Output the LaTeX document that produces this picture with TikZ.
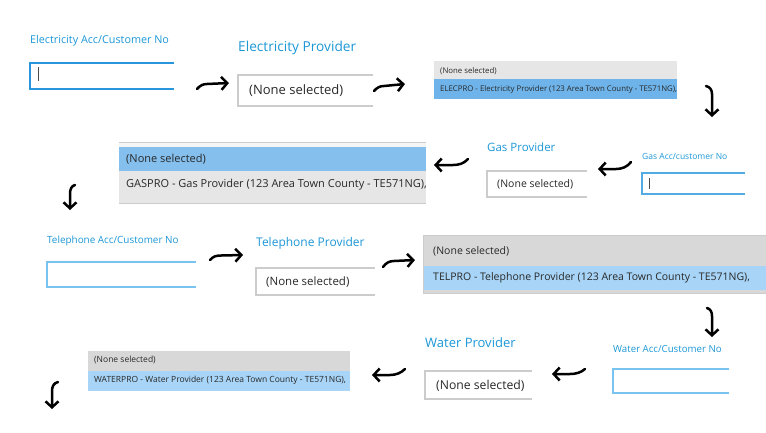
\documentclass[tikz,border=0pt]{standalone}
\usepackage{fontspec}
\setmainfont{Open Sans}
\usetikzlibrary{arrows.meta}
\definecolor{lblblue}{RGB}{28,151,214}
\definecolor{tbfocus}{RGB}{40,150,220}
\definecolor{tblight}{RGB}{120,195,240}
\definecolor{ddborder}{RGB}{204,204,204}
\definecolor{lgray}{RGB}{230,230,230}
\definecolor{lgrayd}{RGB}{216,216,216}
\definecolor{lblue}{RGB}{110,180,234}
\definecolor{lbluel}{RGB}{168,213,247}
\definecolor{txt}{RGB}{40,40,40}
\tikzset{
  lbl/.style={anchor=west,inner sep=0pt,text=lblblue},
  ddtext/.style={anchor=west,inner sep=0pt,text=txt},
  lsttext/.style={anchor=west,inner sep=0pt,text=txt},
  tbox/.style={draw=tbfocus,line width=1.8pt},
  tboxl/.style={draw=tblight,line width=1.6pt},
  ddbox/.style={draw=ddborder,line width=1.2pt},
  cursor/.style={draw=black!70,line width=1pt},
  harrow/.style={draw=black,line width=2.5pt,line cap=round,line join=round,
    -{Straight Barb[length=6pt,width=13pt]}},
}
\begin{document}
\begin{tikzpicture}[x=1pt,y=-1pt]
\useasboundingbox (0,0) rectangle (766,432);

% ---------- Row 1 ----------
\node[lbl,font=\fontsize{10.8}{12}\selectfont] (elecacc) at (30,41) {Electricity Acc/Customer No};
\draw[tbox] (174,63) -- (30,63) -- (30,89) -- (174,89);
\draw[cursor] (38,67) -- (38,81);

\node[lbl,font=\fontsize{13.7}{16}\selectfont] (elecprov) at (238,48) {Electricity Provider};
\draw[ddbox] (373,75) -- (238,75) -- (238,106) -- (373,106);
\node[ddtext,font=\fontsize{13}{15}\selectfont] (elecdd) at (249,91) {(None selected)};

\fill[lgray] (434,61) rectangle (677,79);
\fill[lblue] (434,79) rectangle (677,99);
\node[lsttext,font=\fontsize{7.8}{9}\selectfont] (eleclist1) at (440,71) {(None selected)};
\node[lsttext,font=\fontsize{7.8}{9}\selectfont] (eleclist2) at (440,89.5) {ELECPRO - Electricity Provider (123 Area Town County - TE571NG),};

\coordinate (a1s) at (197,89);
\coordinate (a1m) at (207,84);
\coordinate (a1e) at (229,83);
\draw[harrow] (a1s) .. controls (200,85.5) and (203,84) .. (a1m) -- (a1e);
\coordinate (a2s) at (374,91);
\coordinate (a2m) at (384,86);
\coordinate (a2e) at (405,84);
\draw[harrow] (a2s) .. controls (377,87.5) and (380,86) .. (a2m) -- (a2e);
\coordinate (d1s) at (706,86);
\coordinate (d1m) at (712,94);
\coordinate (d1e) at (712,117);
\draw[harrow] (d1s) .. controls (710,87) and (712,90) .. (d1m) -- (d1e);

% ---------- Row 2 ----------
\fill[lgray] (119,142) rectangle (426,203);
\fill[black!4] (119,143) rectangle (426,147);
\fill[lblue!85!white] (119,147) rectangle (426,171);
\draw[ddborder,line width=0.8pt] (119,142) -- (426,142);
\draw[ddborder,line width=0.8pt] (119,203) -- (426,203);
\node[lsttext,font=\fontsize{11}{13}\selectfont] (gaslist1) at (126,159) {(None selected)};
\node[lsttext,font=\fontsize{11}{13}\selectfont] (gaslist2) at (126,185) {GASPRO - Gas Provider (123 Area Town County - TE571NG),};

\node[lbl,font=\fontsize{11.5}{14}\selectfont] (gasprov) at (487,147) {Gas Provider};
\draw[ddbox] (587,171) -- (487,171) -- (487,197) -- (587,197);
\node[ddtext,font=\fontsize{10.5}{12}\selectfont] (gasdd) at (497,184) {(None selected)};

\node[lbl,font=\fontsize{8.5}{10}\selectfont] (gasacc) at (642,156) {Gas Acc/customer No};
\draw[tboxl,draw=tbfocus!80!white,line width=1.4pt] (745,173) -- (642,173) -- (642,194) -- (745,194);
\draw[cursor] (649,178) -- (649,189);

\coordinate (l1s) at (468,159);
\coordinate (l1m) at (453,165);
\coordinate (l1e) at (434,165);
\draw[harrow] (l1s) .. controls (464,163.5) and (459,165) .. (l1m) -- (l1e);
\coordinate (l2s) at (631,162);
\coordinate (l2m) at (616,169);
\coordinate (l2e) at (598,169);
\draw[harrow] (l2s) .. controls (627,167) and (622,169) .. (l2m) -- (l2e);
\coordinate (d2s) at (75,185);
\coordinate (d2m) at (70,194);
\coordinate (d2e) at (70,210);
\draw[harrow] (d2s) .. controls (71.5,186) and (70,189) .. (d2m) -- (d2e);

% ---------- Row 3 ----------
\node[lbl,font=\fontsize{9.9}{11}\selectfont] (telacc) at (47,241) {Telephone Acc/Customer No};
\draw[tboxl] (196,262) -- (47,262) -- (47,287) -- (196,287);

\node[lbl,font=\fontsize{12}{15}\selectfont] (telprov) at (256,243) {Telephone Provider};
\draw[ddbox] (375,268) -- (256,268) -- (256,295) -- (375,295);
\node[ddtext,font=\fontsize{11.5}{13}\selectfont] (teldd) at (266,282) {(None selected)};

\fill[lgrayd] (423,235) rectangle (766,293);
\fill[lbluel] (424,266) rectangle (766,290);
\draw[ddborder,line width=0.8pt] (766,235) -- (423,235) -- (423,293) -- (766,293);
\node[lsttext,font=\fontsize{10.5}{12}\selectfont] (tellist1) at (433,251) {(None selected)};
\node[lsttext,font=\fontsize{10.5}{12}\selectfont] (tellist2) at (433,278) {TELPRO - Telephone Provider (123 Area Town County - TE571NG),};

\coordinate (a3s) at (210,260);
\coordinate (a3m) at (221,255.5);
\coordinate (a3e) at (243,255);
\draw[harrow] (a3s) .. controls (213,256.5) and (216,255.5) .. (a3m) -- (a3e);
\coordinate (a4s) at (383,267);
\coordinate (a4m) at (394,261);
\coordinate (a4e) at (415,260);
\draw[harrow] (a4s) .. controls (386,263) and (389,261) .. (a4m) -- (a4e);
\coordinate (d3s) at (707,308);
\coordinate (d3m) at (712,316);
\coordinate (d3e) at (712,337);
\draw[harrow] (d3s) .. controls (710.5,309) and (712,312) .. (d3m) -- (d3e);

% ---------- Row 4 ----------
\node[lbl,font=\fontsize{9.7}{11}\selectfont] (wateracc) at (613,349) {Water Acc/Customer No};
\draw[tboxl] (729,369) -- (613,369) -- (613,393) -- (729,393);

\node[lbl,font=\fontsize{13}{15}\selectfont] (waterprov) at (425,343) {Water Provider};
\draw[ddbox] (532,371) -- (425,371) -- (425,399) -- (532,399);
\node[ddtext,font=\fontsize{12.2}{14}\selectfont] (waterdd) at (436,386) {(None selected)};

\fill[lgrayd] (88,351) rectangle (350,371);
\fill[lbluel] (88,371) rectangle (350,391);
\node[lsttext,font=\fontsize{8.5}{10}\selectfont] (waterlist1) at (94,360) {(None selected)};
\node[lsttext,font=\fontsize{8.5}{10}\selectfont] (waterlist2) at (94,380.5) {WATERPRO - Water Provider (123 Area Town County - TE571NG),};

\coordinate (l3s) at (585,369);
\coordinate (l3m) at (570,374);
\coordinate (l3e) at (552,374);
\draw[harrow] (l3s) .. controls (581,372.5) and (576,374) .. (l3m) -- (l3e);
\coordinate (l4s) at (405,369);
\coordinate (l4m) at (390,375);
\coordinate (l4e) at (372,375);
\draw[harrow] (l4s) .. controls (401,373) and (396,375) .. (l4m) -- (l4e);
\coordinate (d4s) at (58,382);
\coordinate (d4m) at (52,391);
\coordinate (d4e) at (52,409);
\draw[harrow] (d4s) .. controls (54,383) and (52,386) .. (d4m) -- (d4e);
\end{tikzpicture}
\end{document}
